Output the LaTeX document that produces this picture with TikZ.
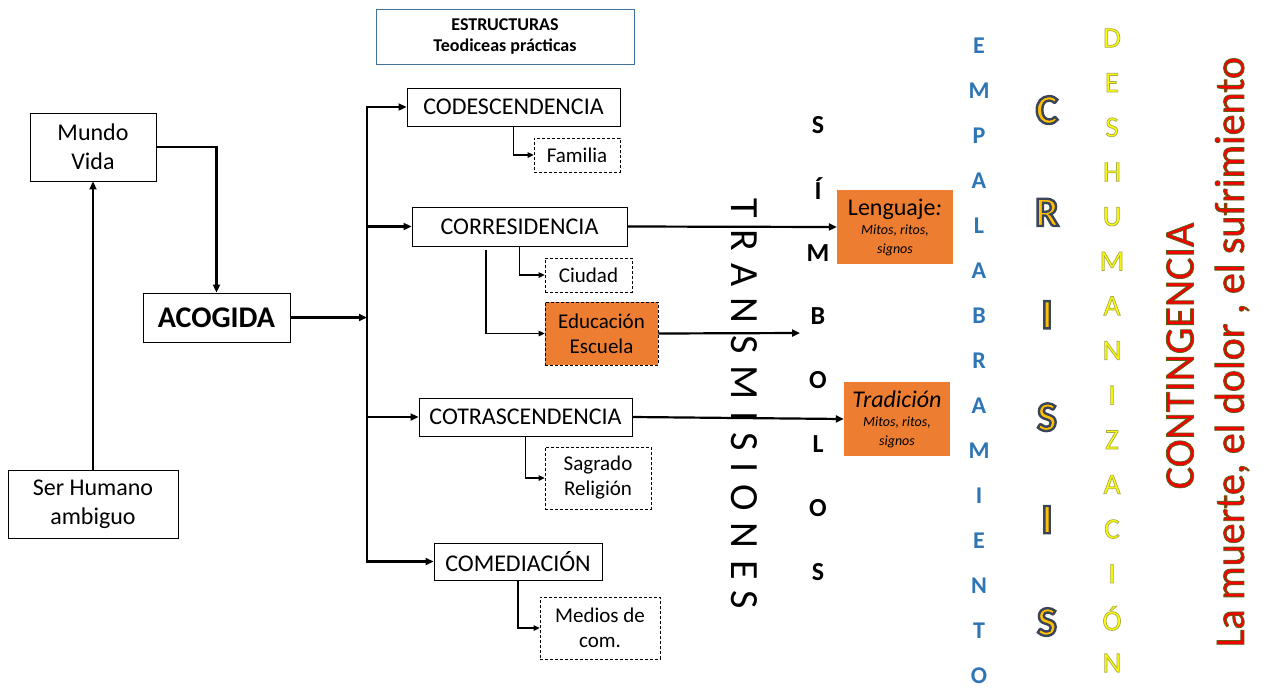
\documentclass[tikz,border=0pt]{standalone}
\usepackage{fontspec}
\setmainfont{Carlito}
\newfontfamily\spaced[LetterSpace=29]{Carlito}
\usetikzlibrary{arrows.meta}
\definecolor{orng}{HTML}{ED7D31}
\definecolor{frameblue}{HTML}{41719C}
\definecolor{empblue}{HTML}{2E75B6}
\definecolor{crisgold}{HTML}{FFC000}
\definecolor{deshy}{HTML}{FFFF00}
\definecolor{contred}{HTML}{F80000}
\makeatletter
\newcommand\outl[3]{\pgfsys@invoke{2 Tr #2 w #1 RG}#3\pgfsys@invoke{0 Tr}}
\makeatother
\newcommand\simbfont{\fontsize{26}{26}\selectfont\bfseries}
\newcommand\emplfont{\fontsize{24}{24}\selectfont\bfseries}
\newcommand\crisfont{\fontsize{42}{42}\selectfont\bfseries}
\newcommand\deshfont{\fontsize{29}{29}\selectfont}
\begin{document}
\begin{tikzpicture}[x=1pt,y=-1pt,
  box/.style={draw, line width=0.9pt, inner sep=0pt, align=center, font=\fontsize{24}{29}\selectfont},
  subbox/.style={draw, densely dashed, line width=0.7pt, inner sep=0pt, align=center, font=\fontsize{21}{25}\selectfont},
  orbox/.style={fill=orng, inner sep=0pt, align=center, font=\fontsize{14}{19}\selectfont\itshape},
  arr/.style={line width=2.2pt, -{Triangle[length=8pt,width=7pt]}},
  tarr/.style={line width=1.1pt, -{Triangle[length=6pt,width=5.5pt]}},
  bigred/.style={font=\fontsize{42}{42}\selectfont, text=contred, rotate=90}
]
\useasboundingbox (0,0) rectangle (1265,689);

% header
\node[draw=frameblue, line width=0.8pt, minimum width=258pt, minimum height=55pt, inner sep=0pt, align=center,
  font=\fontsize{18}{21}\selectfont\bfseries] (estr) at (505,36.5) {ESTRUCTURAS\\Teodiceas prácticas};

% left part
\node[box, minimum width=126pt, minimum height=68pt] (mundo) at (93,147) {Mundo\\Vida};
\node[box, minimum width=170pt, minimum height=68pt] (ser) at (93,504) {Ser Humano\\ambiguo};
\node[box, minimum width=147pt, minimum height=49pt, font=\fontsize{30}{30}\selectfont\bfseries] (acog) at (216.5,317.5) {ACOGIDA};

\draw[arr] (ser.north) -- (mundo.south);
\draw[arr] (mundo.east) -| (acog.north);

% trunk
\coordinate (trunk) at (367,106);
\coordinate (trunkb) at (367,563);
\draw[line width=2.2pt] (trunk) -- (trunkb);
\draw[arr] (acog.east) -- (acog.east -| trunk);

% main boxes
\node[box, minimum width=213pt, minimum height=38pt] (codes) at (513.5,107) {CODESCENDENCIA};
\node[box, minimum width=215pt, minimum height=39pt] (corres) at (519.5,226.5) {CORRESIDENCIA};
\node[box, minimum width=213pt, minimum height=38pt] (cotras) at (525.5,417) {COTRASCENDENCIA};
\node[box, minimum width=168pt, minimum height=37pt] (comed) at (518,561.5) {COMEDIACIÓN};

\draw[arr] (codes.west -| trunk) -- (codes.west);
\draw[arr] (corres.west -| trunk) -- (corres.west);
\draw[arr] (cotras.west -| trunk) -- (cotras.west);
\draw[arr] (comed.west -| trunk) -- (comed.west);

% sub boxes
\node[subbox, minimum width=86pt, minimum height=34pt] (fam) at (577,155) {Familia};
\node[subbox, minimum width=87pt, minimum height=34pt] (ciud) at (588.5,275) {Ciudad};
\node[subbox, fill=orng, minimum width=113pt, minimum height=63pt] (edu) at (601.5,333.5) {Educación\\Escuela};
\node[subbox, minimum width=106pt, minimum height=62pt] (sag) at (598,478) {Sagrado\\Religión};
\node[subbox, minimum width=120pt, minimum height=62pt] (med) at (600,628) {Medios de\\com.};

\draw[tarr] (codes.south) |- (fam.west);
\draw[tarr] (corres.south) |- (ciud.west);
\coordinate (edtop) at (486,250);
\draw[tarr] (edtop) |- (edu.west);
\draw[tarr] (cotras.south) |- (sag.west);
\draw[tarr] (comed.south) |- (med.west);

% orange result boxes
\node[orbox, minimum width=116pt, minimum height=74pt] (leng) at (895,227)
  {{\fontsize{24}{24}\selectfont\upshape Lenguaje\textit{:}}\\Mitos, ritos,\\signos};
\node[orbox, minimum width=106pt, minimum height=74pt] (trad) at (897,419)
  {{\fontsize{24}{24}\selectfont Tradición}\\Mitos, ritos,\\signos};

\draw[arr] (corres.east) -- (leng.west);
\coordinate (eduend) at (800,333);
\draw[arr] (edu.east) -- (eduend);
\draw[arr] (cotras.east) -- (trad.west);

% TRANSMISIONES
\node[rotate=-90, font=\fontsize{40}{40}\spaced] (transm) at (744,404) {TRANSMISIONES};

% SIMBOLOS
\foreach \ch [count=\i from 0] in {S,Í,M,B,O,L,O,S}
  \node[font=\simbfont] (simb\i) at (818,125+63.8*\i) {\ch};

% EMPALABRAMIENTO
\foreach \ch [count=\i from 0] in {E,M,P,A,L,A,B,R,A,M,I,E,N,T,O}
  \node[text=empblue, font=\emplfont] (emp\i) at (979,46+45*\i) {\ch};

% CRISIS
\foreach \ch [count=\i from 0] in {C,R,I,S,I,S}
  \node[text=crisgold, font=\crisfont] (cris\i) at (1047,110+102.4*\i) {\outl{0.23 0.27 0.35}{2.4}{\ch}};

% DESHUMANIZACION
\foreach \ch [count=\i from 0] in {D,E,S,H,U,M,A,N,I,Z,A,C,I,Ó,N}
  \node[text=deshy, font=\deshfont] (desh\i) at (1112,38+44.64*\i) {\outl{0.66 0.66 0.3}{0.7}{\ch}};

% CONTINGENCIA and last line
\node[bigred] (conting) at (1180,356) {\outl{0.35 0.38 0.08}{0.8}{CONTINGENCIA}};
\node[bigred] (muerte) at (1232,352) {\outl{0.35 0.38 0.08}{0.8}{La muerte, el dolor , el sufrimiento}};
\end{tikzpicture}
\end{document}
